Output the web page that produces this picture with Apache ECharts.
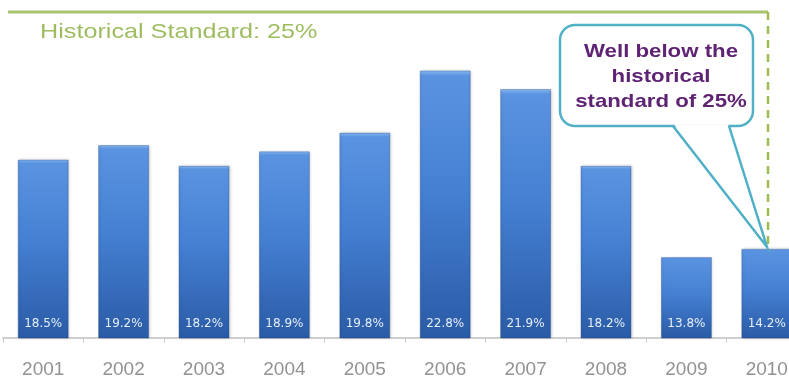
<!DOCTYPE html>
<html>
<head>
<meta charset="utf-8">
<script src="https://cdn.jsdelivr.net/npm/echarts@6/dist/echarts.min.js"></script>
<style>
html,body{margin:0;padding:0;background:#fff;overflow:hidden;width:789px;height:381px;}
#chart{width:807px;height:381px;}
</style>
</head>
<body>
<div id="chart"></div>
<script>
// Data
const years = ['2001','2002','2003','2004','2005','2006','2007','2008','2009','2010'];
const rates = [18.5, 19.2, 18.2, 18.9, 19.8, 22.8, 21.9, 18.2, 13.8, 14.2];
const standardLabel = 'Historical Standard: 25%';
const calloutLines = ['Well below the', 'historical', 'standard of 25%'];

const chart = echarts.init(document.getElementById('chart'), null, {renderer: 'canvas'});

const barGradient = {
  type: 'linear', x: 0, y: 0, x2: 0, y2: 1,
  colorStops: [
    {offset: 0, color: '#8bbcf3'},
    {offset: 0.02, color: '#5a93e0'},
    {offset: 0.45, color: '#4580d3'},
    {offset: 1, color: '#2a5ba6'}
  ]
};

const option = {
  animation: false,
  backgroundColor: '#ffffff',
  grid: {left: 3, right: 0, top: 4, bottom: 43, containLabel: false},
  xAxis: {
    type: 'category',
    data: years,
    axisLine: {show: true, lineStyle: {color: '#cfcfcf', width: 2}},
    axisTick: {show: true, length: 5, lineStyle: {color: '#cfcfcf', width: 1}},
    axisLabel: {
      color: '#929292', fontSize: 19, margin: 22,
      fontFamily: 'Liberation Sans, Arial, sans-serif'
    }
  },
  yAxis: {
    type: 'value', min: 9.9, max: 26,
    show: false,
    splitLine: {show: false}
  },
  series: [{
    type: 'bar',
    data: rates,
    barCategoryGap: '36.6%',
    itemStyle: {
      color: barGradient,
      borderColor: 'rgba(30,70,140,0.35)',
      borderWidth: 1,
      shadowColor: 'rgba(0,0,0,0.2)',
      shadowBlur: 3,
      shadowOffsetX: 1,
      shadowOffsetY: 0
    },
    label: {
      show: true,
      position: 'insideBottom',
      distance: 9,
      formatter: p => p.value.toFixed(1) + '%',
      color: '#e6eef9',
      fontSize: 12,
      fontFamily: 'DejaVu Sans, sans-serif'
    }
  }],
  graphic: [
    {type: 'line', shape: {x1: 8, y1: 12, x2: 768, y2: 12},
     style: {stroke: '#a9c46f', lineWidth: 3}, z: 10},
    {type: 'line', shape: {x1: 768, y1: 12, x2: 768, y2: 249},
     style: {stroke: '#9dbb50', lineWidth: 2.5, lineDash: [8, 6]}, z: 10},
    {type: 'text', x: 40, y: 22, scaleX: 1.2,
     style: {text: standardLabel, fill: '#9fbd60', fontSize: 21,
             fontFamily: 'Liberation Sans, Arial, sans-serif'}, z: 10},
    {type: 'rect', shape: {x: 560, y: 25, width: 193, height: 101, r: 15},
     style: {fill: '#ffffff', stroke: '#4fb0c6', lineWidth: 2.5}, z: 20},
    {type: 'polygon', shape: {points: [[674, 124.3], [728, 124.3], [767, 247]]},
     style: {fill: '#ffffff', stroke: null}, z: 21},
    {type: 'polyline', shape: {points: [[673, 126], [767, 247], [729, 126]]},
     style: {fill: null, stroke: '#4fb0c6', lineWidth: 2.5}, z: 22},
    {type: 'text', x: 661, y: 39, scaleX: 1.17,
     style: {text: calloutLines.join('\n'), fill: '#5f2374', fontSize: 19, fontWeight: 'bold',
             lineHeight: 25, align: 'center', verticalAlign: 'top',
             fontFamily: 'Liberation Sans, Arial, sans-serif'},
     z: 23}
  ]
};
chart.setOption(option);
</script>
</body>
</html>
